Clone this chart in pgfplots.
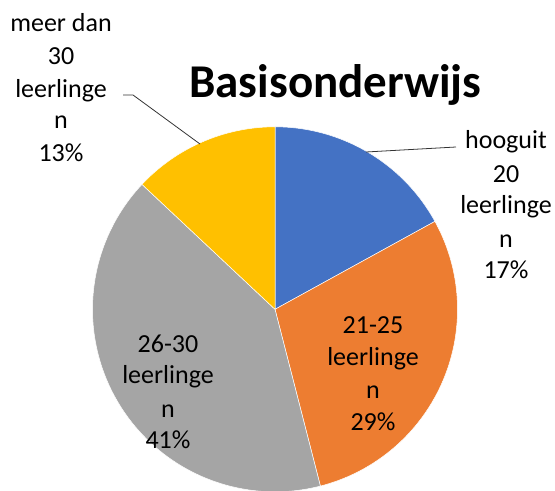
\documentclass[border=0pt]{standalone}
\usepackage{pgfplots}
\pgfplotsset{compat=1.18}
\usepackage{fontspec}
\setmainfont{Carlito}
\definecolor{cblue}{HTML}{4472C4}
\definecolor{corange}{HTML}{ED7D31}
\definecolor{cgray}{HTML}{A5A5A5}
\definecolor{cyellow}{HTML}{FFC000}
% shares (percent), clockwise from 12 o'clock
\def\vA{17}\def\vB{29}\def\vC{41}\def\vD{13}
\pgfmathsetmacro\aA{90}
\pgfmathsetmacro\aB{90-3.6*\vA}
\pgfmathsetmacro\aC{\aB-3.6*\vB}
\pgfmathsetmacro\aD{\aC-3.6*\vC}
\pgfmathsetmacro\aE{\aD-3.6*\vD}
\def\cx{275}\def\cy{309.3}\def\rr{182.5}
\tikzset{lab/.style={font=\fontsize{26bp}{32bp}\selectfont, inner sep=0pt, anchor=base}}
\begin{document}
\begin{tikzpicture}
\begin{axis}[name=ax, hide axis, scale only axis, width=555bp, height=491bp,
  xmin=0, xmax=555, ymin=0, ymax=491, y dir=reverse, clip=true]
\addplot[fill=cblue, draw=white, line width=0.5pt, domain=\aA:\aB, samples=80, variable=\t]
  ({\cx+\rr*cos(\t)},{\cy-\rr*sin(\t)}) -- (\cx,\cy) -- cycle;
\addplot[fill=corange, draw=white, line width=0.5pt, domain=\aB:\aC, samples=80, variable=\t]
  ({\cx+\rr*cos(\t)},{\cy-\rr*sin(\t)}) -- (\cx,\cy) -- cycle;
\addplot[fill=cgray, draw=white, line width=0.5pt, domain=\aC:\aD, samples=100, variable=\t]
  ({\cx+\rr*cos(\t)},{\cy-\rr*sin(\t)}) -- (\cx,\cy) -- cycle;
\addplot[fill=cyellow, draw=white, line width=0.5pt, domain=\aD:\aE, samples=60, variable=\t]
  ({\cx+\rr*cos(\t)},{\cy-\rr*sin(\t)}) -- (\cx,\cy) -- cycle;
% leader lines
\addplot[black!80, line width=0.8pt] coordinates {(123,95) (133,95) (200,144)};
\addplot[black!80, line width=0.8pt] coordinates {(366,152) (456,147)};
% title
\node[lab, font=\fontsize{47bp}{54bp}\selectfont\bfseries] at (335.5,97) {Basisonderwijs};
% left label
\node[lab] at (61,32) {meer dan};
\node[lab] at (61,65) {30};
\node[lab] at (61,97) {leerlinge};
\node[lab] at (61,128) {n};
\node[lab] at (61,161) {13\%};
% right label
\node[lab] at (506,148) {hooguit};
\node[lab] at (506,182) {20};
\node[lab] at (506,213) {leerlinge};
\node[lab] at (506,247) {n};
\node[lab] at (506,278) {17\%};
% orange label
\node[lab] at (373,333) {21-25};
\node[lab] at (373,365) {leerlinge};
\node[lab] at (373,398) {n};
\node[lab] at (373,430) {29\%};
% gray label
\node[lab] at (168,352) {26-30};
\node[lab] at (168,383) {leerlinge};
\node[lab] at (168,417) {n};
\node[lab] at (168,448) {41\%};
\end{axis}
\pgfresetboundingbox
\useasboundingbox (ax.south west) rectangle (ax.north east);
\end{tikzpicture}
\end{document}
